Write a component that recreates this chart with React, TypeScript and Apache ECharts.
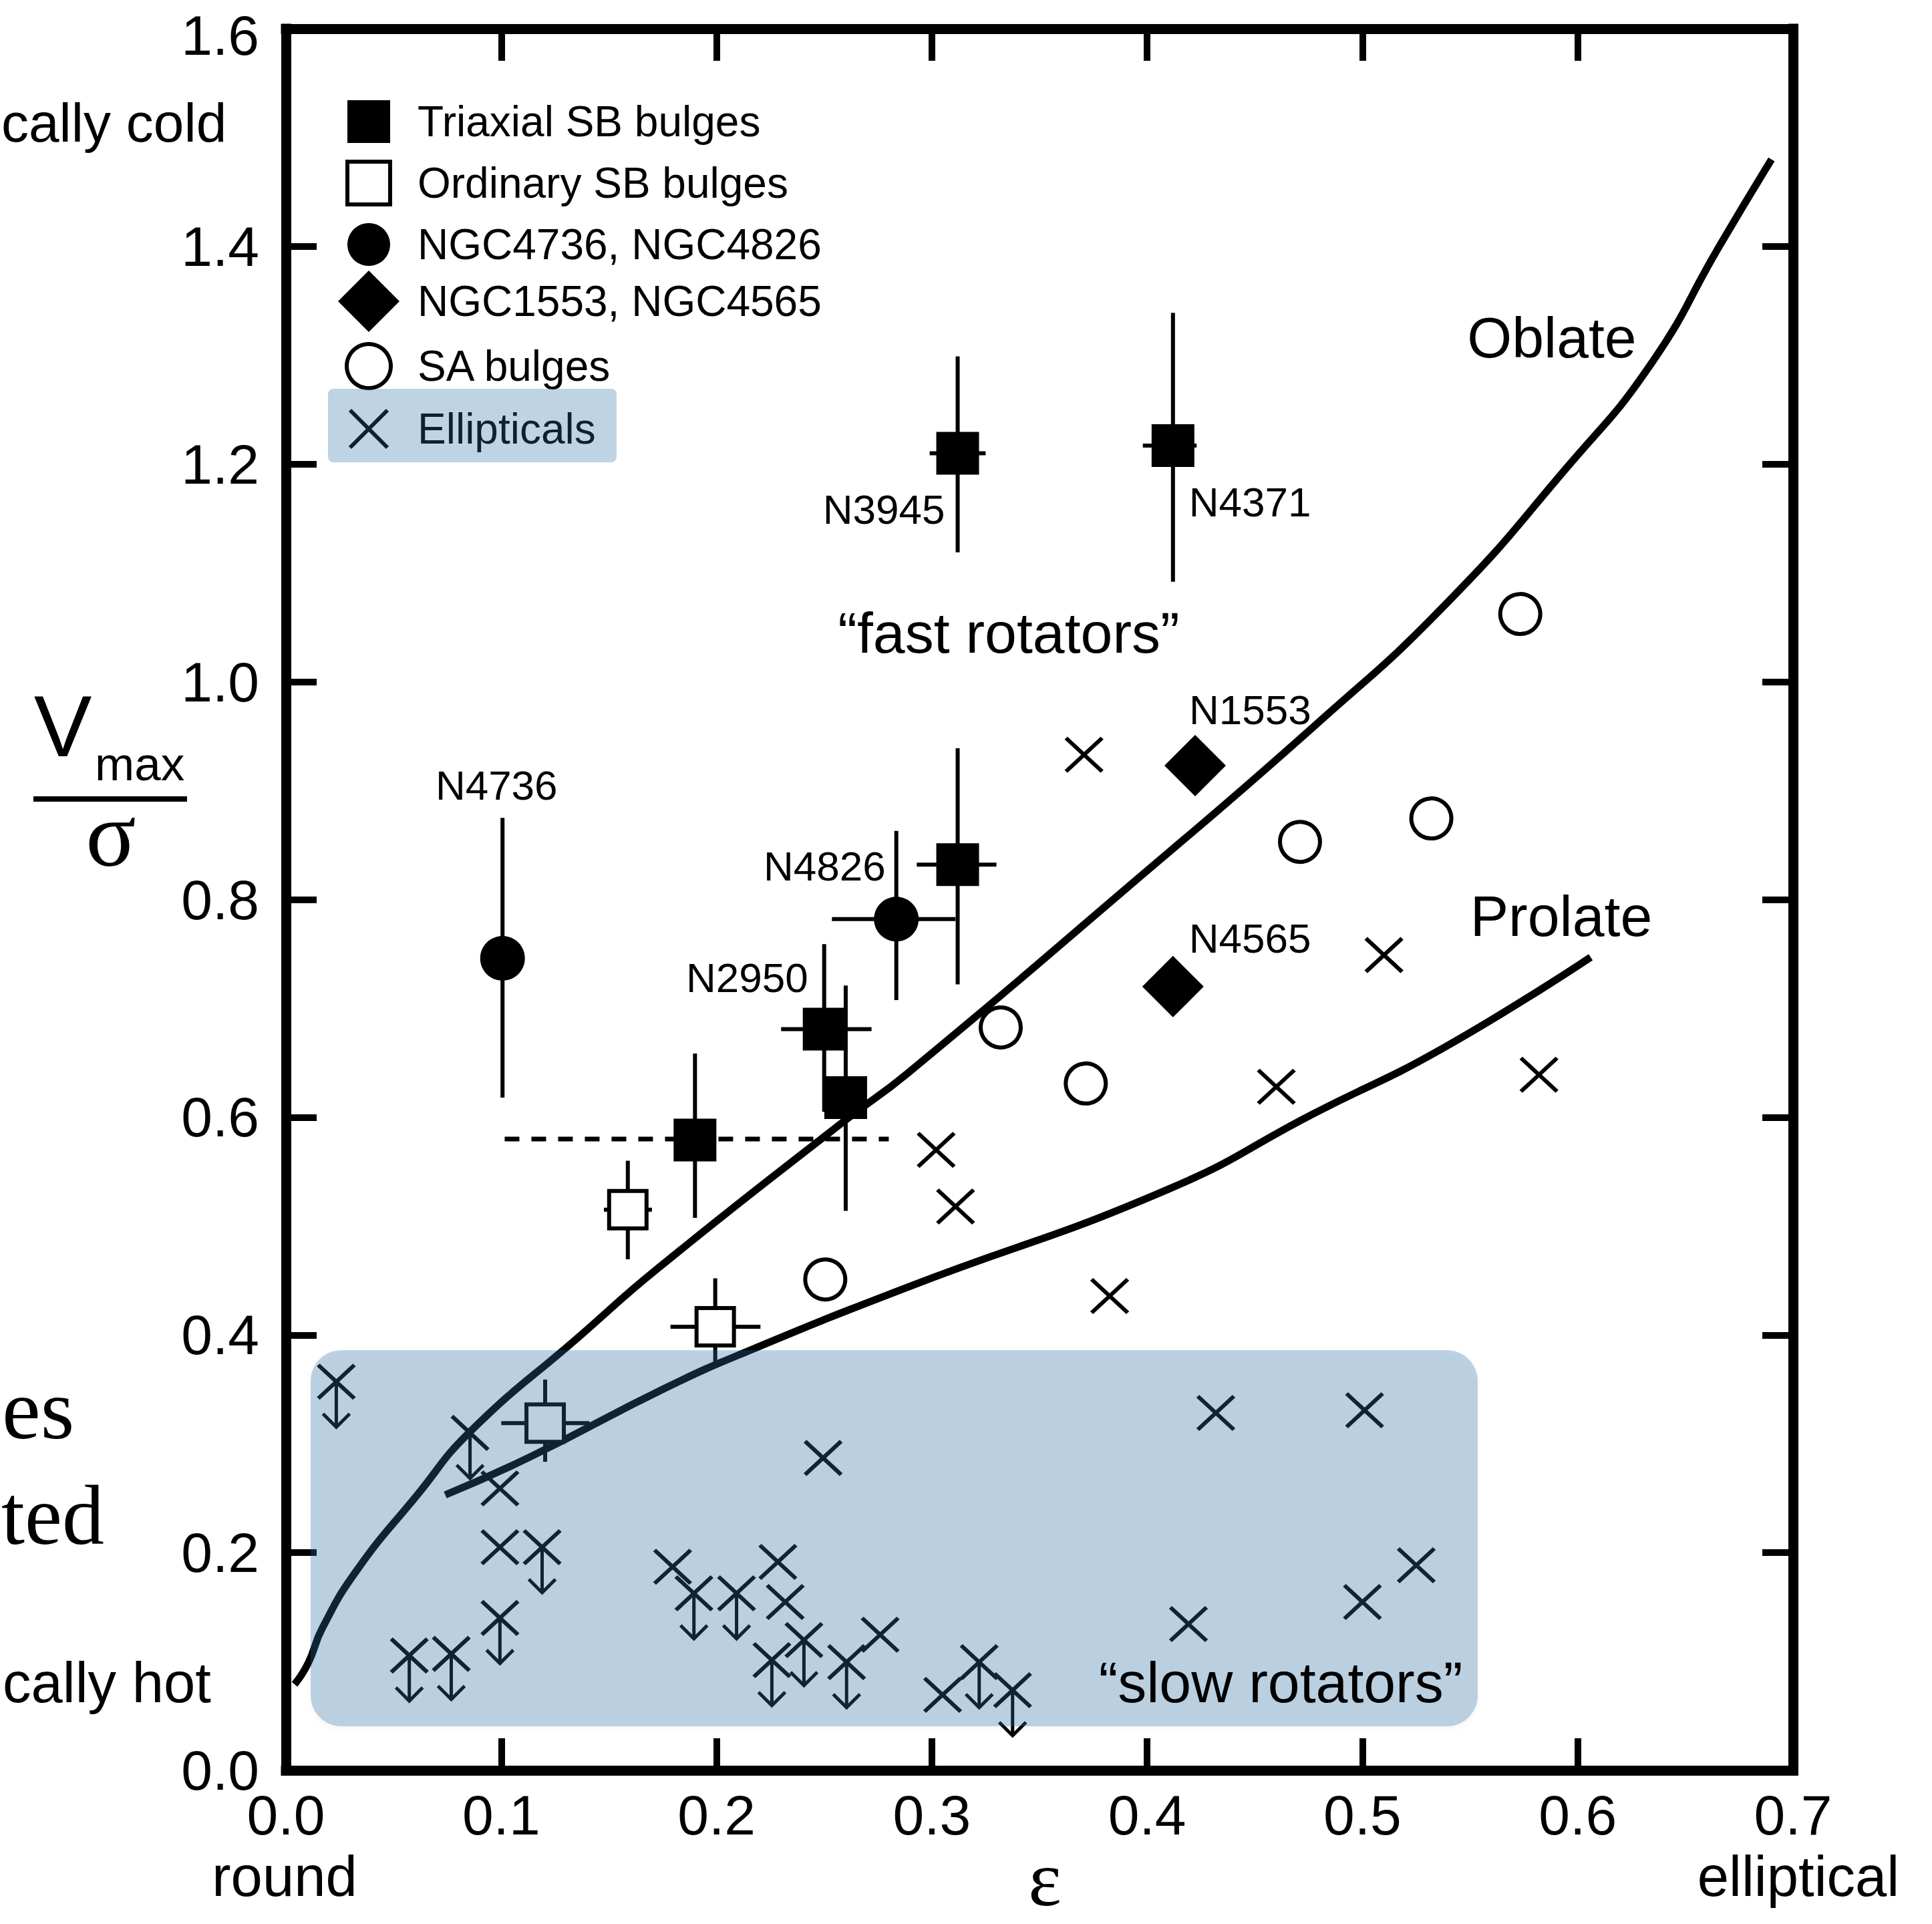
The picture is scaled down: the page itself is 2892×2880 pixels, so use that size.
import { useEffect, useRef } from 'react';
import * as echarts from 'echarts';

// ---------------- data (ε, Vmax/σ) ----------------
// rows: [ε, V/σ, εLow, εHigh, (V/σ)Low, (V/σ)High]
const triaxialSB = [
  [0.312, 1.210, 0.299, 0.325, 1.119, 1.299],
  [0.412, 1.217, 0.398, 0.423, 1.092, 1.339],
  [0.312, 0.832, 0.293, 0.330, 0.722, 0.939],
  [0.250, 0.681, 0.230, 0.272, 0.605, 0.759],
  [0.260, 0.618, 0.260, 0.260, 0.514, 0.721],
  [0.190, 0.579, 0.190, 0.190, 0.5075, 0.6585],
];
const triaxialNames = ['N3945', 'N4371', '', 'N2950', '', ''];

const ordinarySB = [
  [0.1588, 0.515, 0.1477, 0.170, 0.4695, 0.560],
  [0.1994, 0.4075, 0.1786, 0.2204, 0.3725, 0.452],
  [0.1204, 0.319, 0.100, 0.141, 0.2835, 0.359],
];

const ngcCircles = [
  [0.1006, 0.746, 0.1006, 0.1006, 0.618, 0.875],
  [0.2835, 0.782, 0.2536, 0.311, 0.7076, 0.863],
];
const ngcCircleNames = ['N4736', 'N4826'];

const ngcDiamonds = [
  [0.4223, 0.923],
  [0.412, 0.720],
];
const ngcDiamondNames = ['N1553', 'N4565'];

const saBulges = [
  [0.5733, 1.0623],
  [0.532, 0.8745],
  [0.471, 0.853],
  [0.332, 0.6825],
  [0.3715, 0.631],
  [0.2505, 0.451],
];

const ellipticals = [
  [0.3707, 0.933],
  [0.510, 0.749],
  [0.460, 0.628],
  [0.582, 0.639],
  [0.302, 0.570],
  [0.311, 0.518],
  [0.3826, 0.4357],
  [0.0994, 0.259],
  [0.0994, 0.205],
  [0.1796, 0.187],
  [0.2285, 0.1915],
  [0.2319, 0.1547],
  [0.276, 0.1246],
  [0.305, 0.0694],
  [0.2495, 0.287],
  [0.4319, 0.3283],
  [0.501, 0.3308],
  [0.525, 0.1884],
  [0.500, 0.1547],
  [0.4192, 0.1344],
];

// ellipticals that are upper limits (drawn with a down arrow)
const ellipticalLimits = [
  [0.0234, 0.357],
  [0.0855, 0.310],
  [0.119, 0.205],
  [0.0994, 0.140],
  [0.0573, 0.1055],
  [0.0768, 0.107],
  [0.1895, 0.1626],
  [0.2093, 0.1626],
  [0.2406, 0.1197],
  [0.2257, 0.1013],
  [0.2604, 0.0994],
  [0.322, 0.0994],
  [0.3375, 0.0736],
];

const dashedLine = [
  [0.1016, 0.580],
  [0.280, 0.580],
];

const oblateCurve = [
  [0.004, 0.079], [0.0102, 0.098], [0.017, 0.131], [0.033, 0.184],
  [0.061, 0.253], [0.0855, 0.311], [0.1365, 0.399], [0.172, 0.46],
  [0.259, 0.596], [0.2885, 0.640], [0.389, 0.808], [0.478, 0.960],
  [0.540, 1.074], [0.595, 1.197], [0.634, 1.292], [0.666, 1.401], [0.690, 1.480],
];

const prolateCurve = [
  [0.074, 0.253], [0.114, 0.2885], [0.177, 0.352], [0.2164, 0.3866],
  [0.2885, 0.4437], [0.410, 0.534], [0.478, 0.604], [0.537, 0.663], [0.606, 0.747],
];

const legendNames = [
  'Triaxial SB bulges',
  'Ordinary SB bulges',
  'NGC4736, NGC4826',
  'NGC1553, NGC4565',
  'SA bulges',
  'Ellipticals',
];

// ---------------- styling ----------------
const SANS = '"Liberation Sans", Arial, sans-serif';
const SERIF = '"Liberation Serif", "Times New Roman", serif';
const OVERLAY = 'rgba(40, 110, 165, 0.30)';
const SQUARE_PATH = 'path://M0,0H10V10H0Z';
const DIAMOND_PATH = 'path://M5,0L10,5L5,10L0,5Z';
const X_PATH = 'path://M0,0L10,10M10,0L0,10';

const labelPlacement: Record<string, { align: string; offset: number[] }> = {
  N3945: { align: 'right', offset: [-19, 84] },
  N4371: { align: 'left', offset: [24, 84] },
  N2950: { align: 'right', offset: [-24, -77] },
  N4736: { align: 'center', offset: [-9, -259] },
  N4826: { align: 'right', offset: [-16, -79] },
  N1553: { align: 'left', offset: [-9, -84] },
  N4565: { align: 'left', offset: [24, -72] },
};

function withLabels(rows: number[][], names: string[]) {
  return rows.map((r, i) => {
    const n = names[i];
    if (!n) return { value: [r[0], r[1]] };
    const p = labelPlacement[n];
    return {
      value: [r[0], r[1]],
      label: {
        show: true,
        formatter: n,
        position: 'inside',
        align: p.align,
        verticalAlign: 'middle',
        offset: p.offset,
        fontSize: 62,
        fontFamily: SANS,
        color: '#000',
      },
    };
  });
}

function txt(text: string, x: number, y: number, size: number, align: string, family = SANS, lineHeight?: number) {
  const style: any = {
    text,
    fill: '#000',
    font: `normal ${size}px ${family}`,
    textAlign: align,
    textVerticalAlign: 'middle',
  };
  if (lineHeight) style.lineHeight = lineHeight;
  return { type: 'text', x, y, z: 120, silent: true, style };
}

export default function App() {
  const ref = useRef<HTMLDivElement>(null);

  useEffect(() => {
    if (!ref.current) return;
    const chart = echarts.init(ref.current, null, { renderer: 'svg' });

    const axisLineStyle = { color: '#000', width: 15, cap: 'square' };
    const tickStyle = { color: '#000', width: 10 };
    const fmt = (v: number) => v.toFixed(1);

    const legendText = { fontSize: 64, fontFamily: SANS, color: '#000' };
    const legendBase = {
      orient: 'vertical',
      padding: 0,
      itemWidth: 136,
      selectedMode: false,
      textStyle: legendText,
    };
    const solid = { opacity: 1 };

    const option: any = {
      animation: false,
      backgroundColor: '#fff',
      grid: {
        left: 428, top: 43, width: 2256, height: 2607,
        containLabel: false, outerBoundsMode: 'none',
      },
      xAxis: [
        {
          type: 'value', min: 0, max: 0.7, interval: 0.1, position: 'bottom',
          axisLine: { show: true, onZero: false, lineStyle: axisLineStyle },
          axisTick: { show: true, inside: true, length: 48, lineStyle: tickStyle },
          axisLabel: { fontSize: 84, fontFamily: SANS, color: '#000', formatter: fmt, margin: 25 },
          splitLine: { show: false },
        },
        {
          type: 'value', min: 0, max: 0.7, interval: 0.1, position: 'top',
          axisLine: { show: true, onZero: false, lineStyle: axisLineStyle },
          axisTick: { show: true, inside: true, length: 48, lineStyle: tickStyle },
          axisLabel: { show: false },
          splitLine: { show: false },
        },
      ],
      yAxis: [
        {
          type: 'value', min: 0, max: 1.6, interval: 0.2, position: 'left',
          axisLine: { show: true, onZero: false, lineStyle: axisLineStyle },
          axisTick: { show: true, inside: true, length: 46, lineStyle: tickStyle },
          axisLabel: {
            fontSize: 84, fontFamily: SANS, color: '#000', margin: 40, lineHeight: 62,
            formatter: (v: number) => (v > 1.59 ? `{top|${fmt(v)}}` : fmt(v)),
            rich: {
              top: { fontSize: 84, fontFamily: SANS, color: '#000', lineHeight: 62, padding: [20, 0, 0, 0] },
            },
          },
          splitLine: { show: false },
        },
        {
          type: 'value', min: 0, max: 1.6, interval: 0.2, position: 'right',
          axisLine: { show: true, onZero: false, lineStyle: axisLineStyle },
          axisTick: { show: true, inside: true, length: 46, lineStyle: tickStyle },
          axisLabel: { show: false },
          splitLine: { show: false },
        },
      ],
      legend: [
        {
          ...legendBase, left: 517, top: 150, itemHeight: 64, itemGap: 25,
          data: [
            { name: legendNames[0], icon: SQUARE_PATH, itemStyle: { color: '#000', borderWidth: 0, opacity: 1 } },
            { name: legendNames[1], icon: SQUARE_PATH, itemStyle: { color: '#fff', borderColor: '#000', borderWidth: 6, opacity: 1 } },
            { name: legendNames[2], icon: 'circle', itemStyle: { color: '#000', borderWidth: 0, opacity: 1 } },
          ],
        },
        {
          ...legendBase, left: 506, top: 405, itemHeight: 92, itemGap: 10,
          data: [{ name: legendNames[3], icon: DIAMOND_PATH, itemStyle: { color: '#000', borderWidth: 0, opacity: 1 } }],
        },
        {
          ...legendBase, left: 516, top: 512, itemHeight: 66, itemGap: 10,
          data: [{ name: legendNames[4], icon: 'circle', itemStyle: { color: '#fff', borderColor: '#000', borderWidth: 6, opacity: 1 } }],
        },
        {
          ...legendBase, left: 521, top: 610, itemHeight: 56, itemGap: 10,
          data: [{ name: legendNames[5], icon: X_PATH, itemStyle: { color: 'none', borderColor: '#000', borderWidth: 6, opacity: 1 } }],
        },
      ],
      series: [
        {
          name: 'Oblate', type: 'line', data: oblateCurve, symbol: 'none', smooth: 0.5,
          silent: true, z: 2,
          lineStyle: { color: '#000', width: 11, opacity: 1 },
        },
        {
          name: 'Prolate', type: 'line', data: prolateCurve, symbol: 'none', smooth: 0.5,
          silent: true, z: 2,
          lineStyle: { color: '#000', width: 11, opacity: 1 },
        },
        {
          name: 'dashed', type: 'line', data: dashedLine, symbol: 'none', silent: true, z: 2,
          lineStyle: { color: '#000', width: 7, type: [22, 18], opacity: 1 },
        },
        {
          name: 'errorBars', type: 'custom', silent: true, z: 2,
          data: [...triaxialSB, ...ordinarySB, ...ngcCircles],
          renderItem: (_p: any, api: any) => {
            const x = api.value(0), y = api.value(1);
            const xl = api.value(2), xh = api.value(3), yl = api.value(4), yh = api.value(5);
            const children: any[] = [];
            if (yh > yl) {
              const a = api.coord([x, yl]), b = api.coord([x, yh]);
              children.push({ type: 'line', shape: { x1: a[0], y1: a[1], x2: b[0], y2: b[1] }, style: { stroke: '#000', lineWidth: 6 } });
            }
            if (xh > xl) {
              const a = api.coord([xl, y]), b = api.coord([xh, y]);
              children.push({ type: 'line', shape: { x1: a[0], y1: a[1], x2: b[0], y2: b[1] }, style: { stroke: '#000', lineWidth: 6 } });
            }
            return { type: 'group', children };
          },
        },
        {
          name: 'upperLimits', type: 'custom', silent: true, z: 2,
          data: ellipticalLimits,
          renderItem: (_p: any, api: any) => {
            const p = api.coord([api.value(0), api.value(1)]);
            const L = 68, hw = 20, hh = 20;
            return {
              type: 'group',
              children: [
                { type: 'line', shape: { x1: p[0], y1: p[1], x2: p[0], y2: p[1] + L }, style: { stroke: '#000', lineWidth: 5 } },
                {
                  type: 'polyline',
                  shape: { points: [[p[0] - hw, p[1] + L - hh], [p[0], p[1] + L], [p[0] + hw, p[1] + L - hh]] },
                  style: { stroke: '#000', lineWidth: 5, fill: 'none' },
                },
              ],
            };
          },
        },
        {
          name: legendNames[0], type: 'scatter', silent: true, z: 3,
          symbol: 'rect', symbolSize: 64,
          itemStyle: { color: '#000', ...solid },
          data: withLabels(triaxialSB, triaxialNames),
        },
        {
          name: legendNames[1], type: 'scatter', silent: true, z: 3,
          symbol: 'rect', symbolSize: 56,
          itemStyle: { color: '#fff', borderColor: '#000', borderWidth: 6, ...solid },
          data: ordinarySB.map((r) => [r[0], r[1]]),
        },
        {
          name: legendNames[2], type: 'scatter', silent: true, z: 3,
          symbol: 'circle', symbolSize: 67,
          itemStyle: { color: '#000', ...solid },
          data: withLabels(ngcCircles, ngcCircleNames),
        },
        {
          name: legendNames[3], type: 'scatter', silent: true, z: 3,
          symbol: 'diamond', symbolSize: 92,
          itemStyle: { color: '#000', ...solid },
          data: withLabels(ngcDiamonds, ngcDiamondNames),
        },
        {
          name: legendNames[4], type: 'scatter', silent: true, z: 3,
          symbol: 'circle', symbolSize: 60,
          itemStyle: { color: '#fff', borderColor: '#000', borderWidth: 6, ...solid },
          data: saBulges,
        },
        {
          name: legendNames[5], type: 'scatter', silent: true, z: 3,
          symbol: X_PATH, symbolSize: [54, 50], symbolKeepAspect: false,
          itemStyle: { color: 'none', borderColor: '#000', borderWidth: 6, ...solid },
          data: [...ellipticals, ...ellipticalLimits],
        },
      ],
      graphic: [
        // translucent highlight boxes
        {
          type: 'rect', z: 100, silent: true,
          shape: { x: 465, y: 2021, width: 1747, height: 563, r: 46 },
          style: { fill: OVERLAY, shadowBlur: 8, shadowOffsetY: 4, shadowColor: 'rgba(0,0,0,0.12)' },
        },
        {
          type: 'rect', z: 100, silent: true,
          shape: { x: 491, y: 582, width: 432, height: 110, r: 8 },
          style: { fill: OVERLAY },
        },
        // annotations inside plot
        txt('\u201Cfast rotators\u201D', 1510, 947, 86, 'center'),
        txt('\u201Cslow rotators\u201D', 1917, 2518, 86, 'center'),
        txt('Oblate', 2323, 505, 86, 'center'),
        txt('Prolate', 2337, 1371, 86, 'center'),
        // texts around the chart
        txt('cally cold', 2, 183, 82, 'left'),
        txt('cally hot', 4, 2518, 85, 'left'),
        txt('es', 3, 2109, 130, 'left', SERIF),
        txt('ted', 2, 2268, 126, 'left', SERIF),
        txt('round', 426, 2808, 85, 'center'),
        txt('elliptical', 2692, 2808, 85, 'center'),
        txt('\u03B5', 1564, 2812, 118, 'center', SERIF, 80),
        // y-axis label Vmax / σ
        txt('V', 94, 1087, 130, 'center'),
        txt('max', 142, 1143, 71, 'left'),
        {
          type: 'line', z: 120, silent: true,
          shape: { x1: 50, y1: 1196, x2: 280, y2: 1196 },
          style: { stroke: '#000', lineWidth: 8 },
        },
        txt('\u03C3', 166, 1248, 140, 'center', SERIF, 110),
      ],
    };

    chart.setOption(option);
    return () => chart.dispose();
  }, []);

  return (
    <div
      ref={ref}
      style={{ position: 'fixed', left: 0, top: 0, width: 2892, height: 2880, background: '#fff' }}
    />
  );
}
